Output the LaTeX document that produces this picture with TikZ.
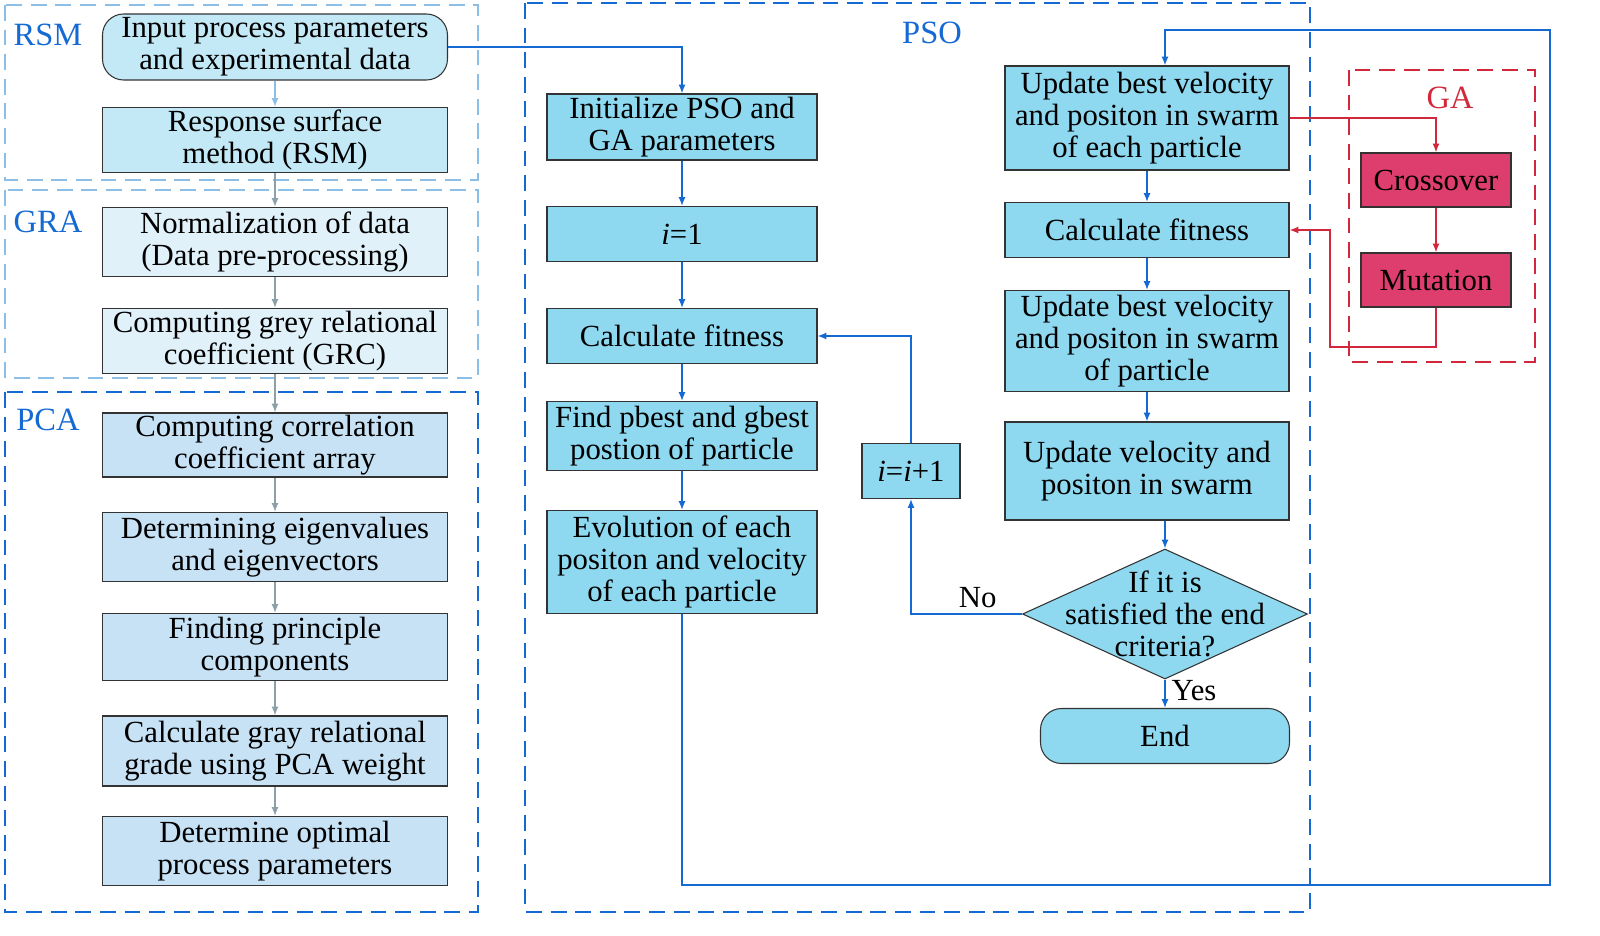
\documentclass[tikz,border=0pt]{standalone}
\usepackage{fontspec}
\setmainfont{Liberation Serif}
\usetikzlibrary{shapes.geometric,arrows.meta}
\definecolor{dblue}{RGB}{20,105,210}
\definecolor{lblue}{RGB}{140,190,230}
\definecolor{rsmf}{RGB}{195,232,246}
\definecolor{graf}{RGB}{225,241,250}
\definecolor{pcaf}{RGB}{200,226,245}
\definecolor{psof}{RGB}{142,216,240}
\definecolor{gaf}{RGB}{222,62,110}
\definecolor{gred}{RGB}{210,40,60}
\definecolor{grayc}{RGB}{140,160,170}
\begin{document}
\begin{tikzpicture}[x=0.02cm,y=-0.02cm,
  every node/.style={font=\fontsize{17.5}{18}\selectfont},
  bx/.style={draw=black!80,line width=0.6pt,align=center,inner sep=1pt},
  lb/.style={bx,fill=pcaf,minimum width=345*0.02cm},
  pb/.style={bx,fill=psof},
  arr/.style={-{Latex[length=5pt,width=4pt]},line width=0.9pt,dblue},
  garr/.style={-{Latex[length=5pt,width=4pt]},line width=0.9pt,grayc},
  rarr/.style={-{Latex[length=5pt,width=4pt]},line width=0.9pt,gred},
  frame/.style={dashed,dash pattern=on 9pt off 5pt,line width=0.9pt},
  ttl/.style={font=\fontsize{18.5}{20}\selectfont}]
\useasboundingbox (0,0) rectangle (1600,936);
% frames
\draw[frame,lblue] (5,5) rectangle (478,180);
\draw[frame,lblue] (5,190) rectangle (478,378);
\draw[frame,dblue] (5,392) rectangle (478,912);
\draw[frame,dblue] (525,3) rectangle (1310,912);
\draw[frame,gred] (1349,70) rectangle (1535,362);
\node[ttl,text=dblue] (trsm) at (48,35) {RSM};
\node[ttl,text=dblue] (tgra) at (48,222) {GRA};
\node[ttl,text=dblue] (tpca) at (48,420) {PCA};
\node[ttl,text=dblue] (tpso) at (932,33) {PSO};
\node[ttl,text=gred] (tga) at (1450,98) {GA};
% left column
\node[lb,fill=rsmf,rounded corners=12pt,minimum height=66*0.02cm] (in) at (275,47) {Input process parameters\\and experimental data};
\node[lb,fill=rsmf,minimum height=65*0.02cm] (rsm) at (275,140) {Response surface\\method (RSM)};
\node[lb,fill=graf,minimum height=69*0.02cm] (norm) at (275,242) {Normalization of data\\(Data pre-processing)};
\node[lb,fill=graf,minimum height=65*0.02cm] (grc) at (275,341) {Computing grey relational\\coefficient (GRC)};
\node[lb,minimum height=64*0.02cm] (corr) at (275,445) {Computing correlation\\coefficient array};
\node[lb,minimum height=69*0.02cm] (eig) at (275,547) {Determining eigenvalues\\and eigenvectors};
\node[lb,minimum height=67*0.02cm] (fpc) at (275,647) {Finding principle\\components};
\node[lb,minimum height=70*0.02cm] (cgg) at (275,751) {Calculate gray relational\\grade using PCA weight};
\node[lb,minimum height=69*0.02cm] (det) at (275,851) {Determine optimal\\process parameters};
\draw[garr,lblue] (in) -- (rsm);
\foreach \a/\b in {rsm/norm,norm/grc,grc/corr,corr/eig,eig/fpc,fpc/cgg,cgg/det}
  \draw[garr] (\a) -- (\b);
% middle column
\tikzset{mb/.style={pb,minimum width=270*0.02cm}}
\node[mb,minimum height=66*0.02cm] (init) at (682,127) {Initialize PSO and\\GA parameters};
\node[mb,minimum height=55*0.02cm] (i1) at (682,234) {\textit{i}=1};
\node[mb,minimum height=55*0.02cm] (cf1) at (682,336) {Calculate fitness};
\node[mb,minimum height=69*0.02cm] (find) at (682,436) {Find pbest and gbest\\postion of particle};
\node[mb,minimum height=103*0.02cm] (evo) at (682,562) {Evolution of each\\positon and velocity\\of each particle};
\node[pb,minimum width=98*0.02cm,minimum height=55*0.02cm] (ii) at (911,471) {\textit{i}=\textit{i}+1};
\draw[arr] (in.east) -| (init.north);
\foreach \a/\b in {init/i1,i1/cf1,cf1/find,find/evo} \draw[arr] (\a) -- (\b);
% right column
\tikzset{rb/.style={pb,minimum width=284*0.02cm}}
\node[rb,minimum height=104*0.02cm] (ub1) at (1147,118) {Update best velocity\\and positon in swarm\\of each particle};
\node[rb,minimum height=55*0.02cm] (cf2) at (1147,230) {Calculate fitness};
\node[rb,minimum height=101*0.02cm] (ub2) at (1147,341) {Update best velocity\\and positon in swarm\\of particle};
\node[rb,minimum height=98*0.02cm] (uv) at (1147,471) {Update velocity and\\positon in swarm};
\node[diamond,draw=black!80,line width=0.6pt,fill=psof,minimum width=285*0.02cm,minimum height=130*0.02cm,aspect=2.2,align=center,inner sep=0pt] (dia) at (1165,614) {};
\node[align=center] (dtext) at (1165,614) {If it is\\satisfied the end\\criteria?};
\node[pb,rounded corners=12pt,minimum width=249*0.02cm,minimum height=55*0.02cm] (end) at (1165,736) {End};
\node[bx,fill=gaf,minimum width=150*0.02cm,minimum height=54*0.02cm] (cross) at (1436,180) {Crossover};
\node[bx,fill=gaf,minimum width=150*0.02cm,minimum height=54*0.02cm] (mut) at (1436,280) {Mutation};
\coordinate (c1) at (682,885);
\coordinate (c2) at (1550,885);
\coordinate (c3) at (1550,30);
\coordinate (c4) at (1165,30);
\draw[arr] (evo.south) -- (c1) -- (c2) -- (c3) -- (c4) -- (c4 |- ub1.north);
\draw[arr] (ub1.south) -- (cf2.north);
\draw[arr] (cf2.south) -- (ub2.north);
\draw[arr] (ub2.south) -- (uv.north);
\draw[arr] (uv.south -| dia.north) -- (dia.north);
\draw[arr] (dia.south) -- node[right,pos=0.4,text=black] (yes) {Yes} (end.north);
\draw[arr] (dia.west) -| node[pos=0.2,above,text=black] (no) {No} (ii.south);
\draw[arr] (ii.north) |- (cf1.east);
\draw[rarr] (ub1.east) -| (cross.north);
\draw[rarr] (cross) -- (mut);
\coordinate (r1) at (1436,347);
\coordinate (r2) at (1330,347);
\draw[rarr] (mut.south) -- (r1) -- (r2) |- (cf2.east);
\end{tikzpicture}
\end{document}
